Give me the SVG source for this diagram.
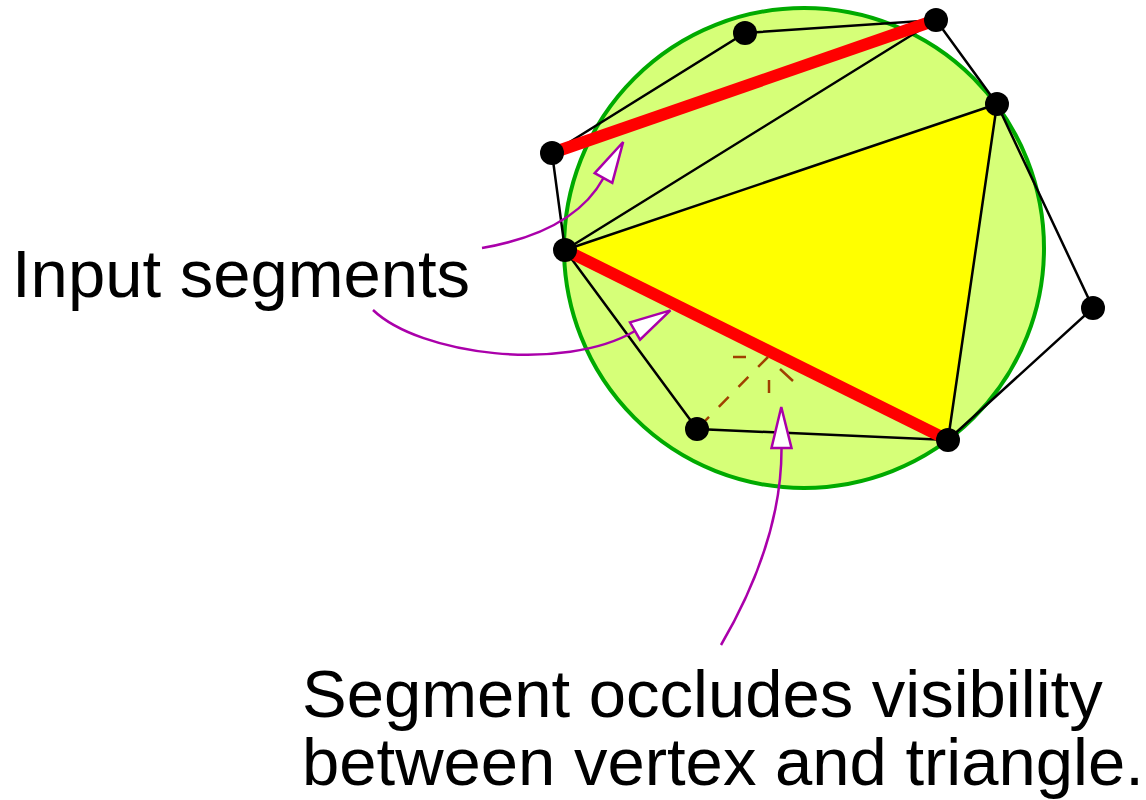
<svg xmlns="http://www.w3.org/2000/svg" width="1146" height="800" viewBox="0 0 1146 800">
<style>
.edge{stroke:#000;stroke-width:2.5;fill:none}
.seg{stroke:#ff0000;stroke-width:12;fill:none}
.dash{stroke:#a04000;stroke-width:2.5;fill:none}
.dot{fill:#000}
.arrow{stroke:#aa00aa;stroke-width:2.5;fill:none}
.lbl{font-family:"Liberation Sans",Arial,sans-serif;font-size:67px;fill:#000}
</style>
<defs>
<marker id="open" markerUnits="userSpaceOnUse" markerWidth="60" markerHeight="30" refX="0" refY="0" orient="auto" overflow="visible">
<path d="M0,-10 L41,0 L0,10 Z" fill="#fff" stroke="#aa00aa" stroke-width="2.5" stroke-linejoin="miter"/>
</marker>
</defs>
<g id="circumcircle">
<circle cx="804" cy="248" r="240" fill="#d6ff78" stroke="#00aa00" stroke-width="4"/>
</g>
<g id="triangle">
<polygon points="565,250 997,104 948,440" fill="#ffff00"/>
</g>
<g id="connectors">
<path class="edge" d="M552,153 L745,33 L936,20 L997,104 L1093,308 L948,440 L697,429 L565,250 Z"/>
<path class="edge" d="M565,250 L936,20 M565,250 L997,104 M997,104 L948,440"/>
<path class="seg" d="M552,153 L936,20"/>
<path class="seg" d="M565,250 L948,440"/>
<path class="dash" d="M768,357 L697,429" stroke-dasharray="14 14"/>
<path class="dash" d="M769,380 L769,393 M780,369 L793,381 M733,357 L746,357"/>
</g>
<g id="vertices">
<circle class="dot" cx="552" cy="153" r="12"/>
<circle class="dot" cx="745" cy="33" r="12"/>
<circle class="dot" cx="936" cy="20" r="12"/>
<circle class="dot" cx="997" cy="104" r="12"/>
<circle class="dot" cx="1093" cy="308" r="12"/>
<circle class="dot" cx="948" cy="440" r="12"/>
<circle class="dot" cx="697" cy="429" r="12"/>
<circle class="dot" cx="565" cy="250" r="12"/>
</g>
<g id="arrows">
<path class="arrow" d="M482,248 Q574,232 603.5,178" marker-end="url(#open)"/>
<path class="arrow" d="M373,310 C420,355 563,373 635,331" marker-end="url(#open)"/>
<path class="arrow" d="M721,645 Q782,540 781.5,448" marker-end="url(#open)"/>
</g>
<g id="label-input">
<text class="lbl" x="12" y="297">Input segments</text>
</g>
<g id="label-occludes">
<text class="lbl" x="302" y="717">Segment occludes visibility</text>
<text class="lbl" x="302" y="785">between vertex and triangle.</text>
</g>
</svg>
